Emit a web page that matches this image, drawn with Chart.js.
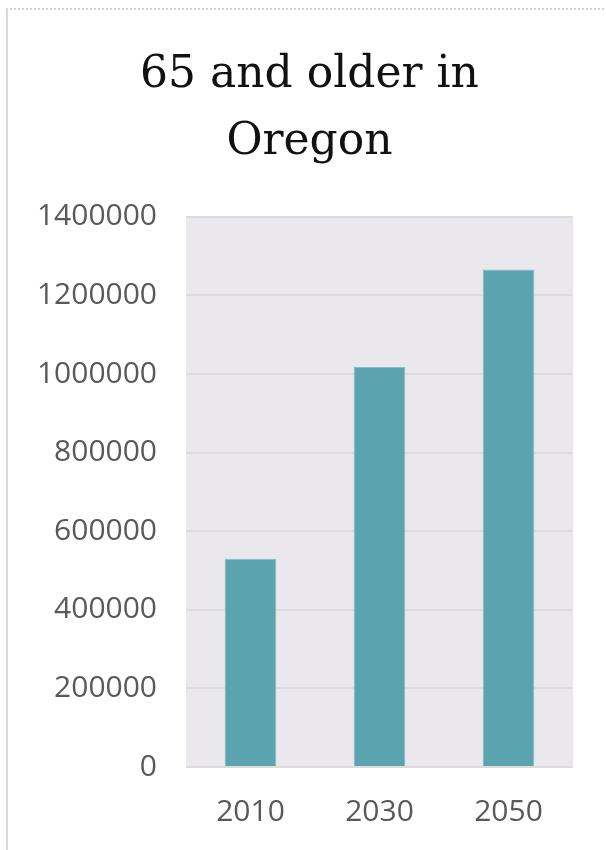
<!DOCTYPE html>
<html>
<head>
<meta charset="utf-8">
<script src="https://cdn.jsdelivr.net/npm/chart.js@4/dist/chart.umd.min.js"></script>
<style>
    html, body { margin: 0; padding: 0; background: #fff; }
    #frame {
        position: absolute; left: 6px; top: 8px; width: 620px; height: 860px;
        border-left: 2px solid #d9d9d9; border-top: 2px dotted #d4d4d4;
    }
    #wrap { position: absolute; left: 0; top: 0; width: 606px; height: 850px; }
</style>
</head>
<body>
<div id="frame"></div>
<div id="wrap"><canvas id="chart-oregon"></canvas></div>
<script>
const years = ['2010', '2030', '2050'];
const olderPopulation = [530000, 1018000, 1266000];
const titleLines = ['65 and older in', 'Oregon'];

// grey plot area behind the bars
const plotBackground = {
    id: 'plotBackground',
    beforeDraw(chart) {
        const { ctx, chartArea } = chart;
        ctx.save();
        ctx.fillStyle = '#eae8ec';
        ctx.fillRect(chartArea.left, chartArea.top, chartArea.right - chartArea.left, chartArea.bottom - chartArea.top);
        ctx.restore();
    }
};

// left padding is wide so the title centres like the original;
// widen the y axis box again so its labels are not clipped
const widenYAxis = {
    id: 'widenYAxis',
    afterLayout(chart) {
        chart.scales.y.left = 0;
    }
};

const ctx = document.getElementById('chart-oregon');
new Chart(ctx, {
    type: 'bar',
    data: {
        labels: years,
        datasets: [{
            data: olderPopulation,
            backgroundColor: '#5ba3ae',
            borderColor: '#86bcc4',
            borderWidth: 1,
            barPercentage: 0.4,
            categoryPercentage: 1
        }]
    },
    options: {
        responsive: true,
        maintainAspectRatio: false,
        animation: false,
        layout: {
            padding: { top: 8, left: 46, right: 33, bottom: 0 }
        },
        plugins: {
            legend: { display: false },
            tooltip: { enabled: false },
            title: {
                display: true,
                text: titleLines,
                color: '#111',
                font: { family: 'DejaVu Serif', size: 44, weight: 'normal', lineHeight: 1.52 },
                padding: { top: 34, bottom: 41 }
            }
        },
        scales: {
            x: {
                grid: { display: false },
                border: { display: false },
                ticks: {
                    color: '#595959',
                    padding: 19,
                    font: { family: 'Open Sans', size: 30 }
                },
                afterFit(scale) { scale.height = 83; }
            },
            y: {
                min: 0,
                max: 1400000,
                grid: { color: '#dcdcdc', lineWidth: 2, drawTicks: false },
                border: { display: false },
                ticks: {
                    stepSize: 200000,
                    color: '#595959',
                    padding: 29,
                    font: { family: 'Open Sans', size: 30 },
                    callback: (v) => String(v)
                },
                afterFit(scale) { scale.width = 140; }
            }
        }
    },
    plugins: [plotBackground, widenYAxis]
});
</script>
</body>
</html>
